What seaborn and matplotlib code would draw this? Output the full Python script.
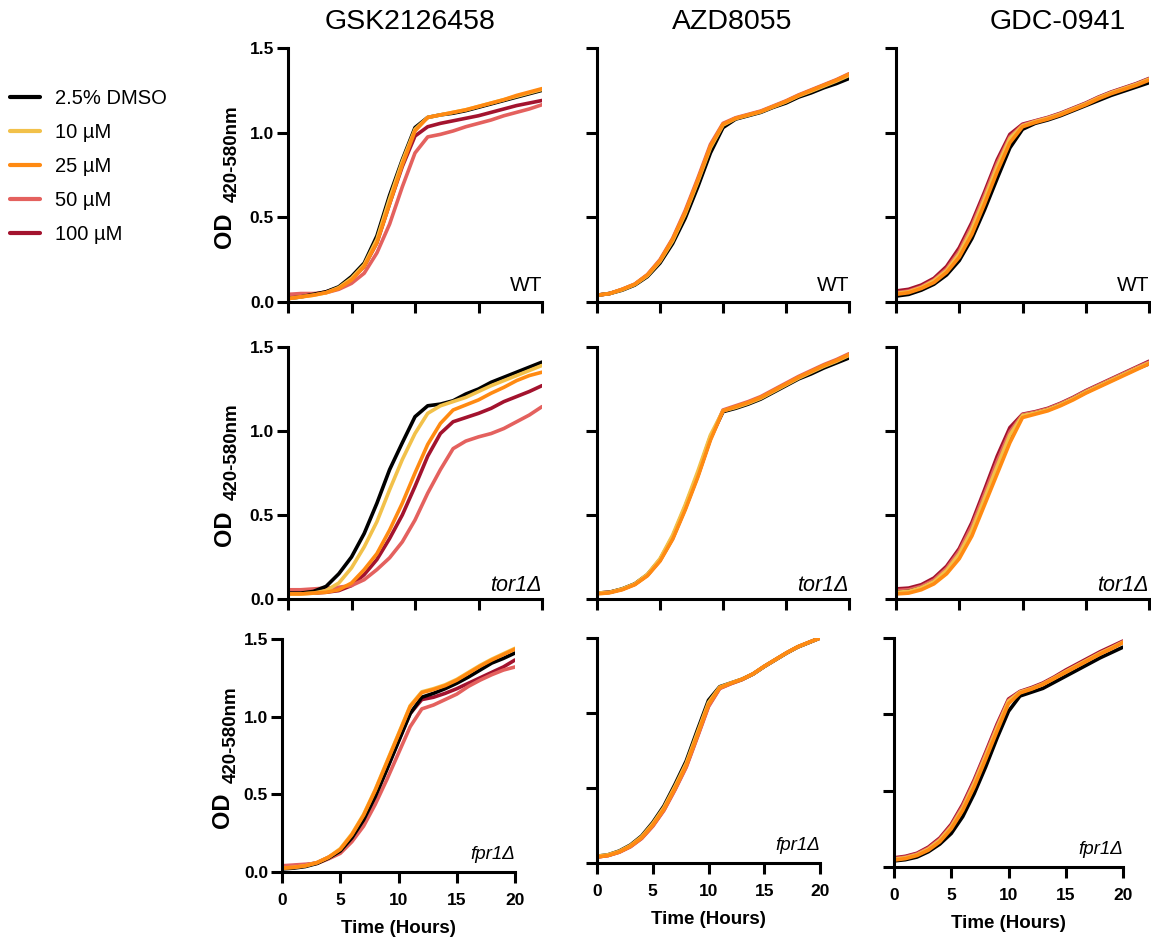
import matplotlib
matplotlib.use("Agg")
import matplotlib.pyplot as plt
import seaborn as sns
import pandas as pd
from matplotlib.lines import Line2D

# ---------------- data (OD 420-580nm) ----------------
HOURS = list(range(21))
TREATMENTS = ["2.5% DMSO", "10 µM", "25 µM", "50 µM", "100 µM"]
DRUGS = ["GSK2126458", "AZD8055", "GDC-0941"]
STRAINS = ["WT", "tor1Δ", "fpr1Δ"]

# GSK2126458
gsk_wt_dmso = [0.02,0.03,0.045,0.06,0.09,0.15,0.23,0.39,0.63,0.84,1.03,1.09,1.105,1.115,1.13,1.15,1.17,1.19,1.21,1.23,1.25]
gsk_wt_10 = [0.02,0.03,0.04,0.055,0.085,0.14,0.22,0.37,0.61,0.83,1.02,1.09,1.105,1.12,1.135,1.155,1.175,1.195,1.215,1.235,1.255]
gsk_wt_25 = [0.02,0.03,0.04,0.055,0.08,0.13,0.21,0.35,0.58,0.81,1.01,1.09,1.105,1.12,1.135,1.155,1.175,1.195,1.22,1.24,1.26]
gsk_wt_50 = [0.045,0.05,0.05,0.055,0.075,0.11,0.17,0.29,0.46,0.68,0.88,0.975,0.99,1.01,1.035,1.055,1.075,1.10,1.12,1.14,1.165]
gsk_wt_100 = [0.03,0.035,0.045,0.06,0.085,0.135,0.21,0.35,0.58,0.80,0.98,1.035,1.055,1.07,1.085,1.10,1.12,1.14,1.16,1.175,1.19]

gsk_tor_dmso = [0.035,0.035,0.045,0.075,0.15,0.25,0.39,0.57,0.77,0.93,1.085,1.15,1.16,1.18,1.22,1.25,1.29,1.32,1.35,1.38,1.41]
gsk_tor_10 = [0.03,0.03,0.035,0.05,0.095,0.185,0.31,0.46,0.65,0.83,0.985,1.105,1.15,1.175,1.20,1.235,1.27,1.30,1.33,1.36,1.39]
gsk_tor_25 = [0.03,0.03,0.035,0.04,0.055,0.095,0.175,0.27,0.41,0.57,0.75,0.92,1.045,1.125,1.155,1.185,1.225,1.26,1.30,1.33,1.35]
gsk_tor_50 = [0.055,0.055,0.06,0.065,0.07,0.08,0.115,0.175,0.245,0.34,0.47,0.63,0.77,0.895,0.94,0.965,0.985,1.015,1.055,1.095,1.145]
gsk_tor_100 = [0.035,0.035,0.035,0.04,0.05,0.08,0.145,0.235,0.36,0.50,0.67,0.85,0.985,1.055,1.08,1.105,1.135,1.175,1.205,1.235,1.27]

gsk_fpr_dmso = [0.02,0.025,0.035,0.055,0.09,0.135,0.22,0.335,0.485,0.66,0.84,1.02,1.125,1.15,1.18,1.215,1.255,1.30,1.345,1.375,1.41]
gsk_fpr_10 = [0.025,0.03,0.04,0.06,0.095,0.15,0.245,0.37,0.53,0.71,0.89,1.07,1.16,1.18,1.205,1.24,1.285,1.33,1.37,1.405,1.44]
gsk_fpr_25 = [0.025,0.03,0.04,0.06,0.095,0.145,0.24,0.365,0.525,0.705,0.885,1.065,1.155,1.175,1.20,1.235,1.28,1.325,1.365,1.40,1.435]
gsk_fpr_50 = [0.04,0.045,0.05,0.055,0.085,0.12,0.195,0.295,0.435,0.595,0.765,0.935,1.05,1.075,1.11,1.145,1.195,1.235,1.27,1.30,1.32]
gsk_fpr_100 = [0.035,0.04,0.045,0.06,0.095,0.14,0.225,0.34,0.49,0.665,0.845,1.02,1.11,1.125,1.15,1.18,1.215,1.25,1.285,1.32,1.365]

# AZD8055
azd_wt_dmso = [0.04,0.05,0.07,0.10,0.15,0.23,0.345,0.495,0.68,0.88,1.03,1.08,1.10,1.12,1.15,1.175,1.21,1.235,1.265,1.29,1.32]
azd_wt_10 = [0.04,0.05,0.072,0.103,0.155,0.24,0.36,0.52,0.71,0.91,1.045,1.083,1.103,1.123,1.153,1.182,1.217,1.245,1.275,1.305,1.338]
azd_wt_25 = [0.04,0.05,0.075,0.105,0.16,0.245,0.37,0.53,0.72,0.92,1.05,1.085,1.105,1.125,1.155,1.185,1.22,1.25,1.28,1.31,1.345]
azd_wt_50 = [0.04,0.05,0.075,0.106,0.162,0.25,0.375,0.54,0.73,0.93,1.055,1.088,1.108,1.128,1.158,1.188,1.223,1.253,1.283,1.313,1.348]
azd_wt_100 = [0.04,0.05,0.074,0.104,0.158,0.243,0.367,0.527,0.717,0.915,1.048,1.084,1.104,1.124,1.154,1.184,1.219,1.249,1.279,1.309,1.343]

azd_tor_dmso = [0.035,0.04,0.06,0.09,0.145,0.235,0.37,0.55,0.745,0.965,1.115,1.135,1.16,1.19,1.23,1.27,1.31,1.34,1.375,1.405,1.435]
azd_tor_10 = [0.035,0.04,0.06,0.09,0.147,0.24,0.38,0.56,0.76,0.975,1.12,1.14,1.165,1.195,1.235,1.275,1.315,1.35,1.385,1.415,1.45]
azd_tor_25 = [0.03,0.037,0.055,0.085,0.138,0.225,0.355,0.53,0.725,0.945,1.12,1.145,1.17,1.20,1.24,1.28,1.32,1.355,1.39,1.42,1.455]
azd_tor_50 = [0.035,0.04,0.058,0.088,0.142,0.23,0.362,0.54,0.735,0.955,1.125,1.15,1.175,1.205,1.245,1.285,1.325,1.36,1.395,1.425,1.46]
azd_tor_100 = [0.035,0.04,0.058,0.088,0.142,0.23,0.36,0.538,0.733,0.953,1.118,1.14,1.165,1.195,1.235,1.275,1.315,1.35,1.385,1.415,1.445]

azd_fpr_dmso = [0.045,0.055,0.08,0.12,0.18,0.27,0.38,0.525,0.68,0.885,1.085,1.175,1.20,1.225,1.26,1.31,1.355,1.40,1.44,1.47,1.50]
azd_fpr_10 = [0.045,0.055,0.078,0.117,0.175,0.262,0.37,0.512,0.665,0.868,1.07,1.172,1.20,1.225,1.26,1.31,1.355,1.40,1.44,1.47,1.50]
azd_fpr_25 = [0.04,0.05,0.074,0.112,0.168,0.252,0.358,0.498,0.65,0.85,1.055,1.168,1.198,1.225,1.262,1.312,1.357,1.402,1.442,1.472,1.50]
azd_fpr_50 = [0.04,0.05,0.072,0.108,0.163,0.245,0.35,0.488,0.638,0.838,1.042,1.163,1.195,1.222,1.26,1.31,1.355,1.40,1.44,1.47,1.50]
azd_fpr_100 = [0.04,0.05,0.073,0.11,0.165,0.248,0.354,0.493,0.644,0.844,1.048,1.165,1.196,1.223,1.26,1.31,1.355,1.40,1.44,1.47,1.50]

# GDC-0941
gdc_wt_dmso = [0.035,0.045,0.07,0.105,0.16,0.245,0.375,0.545,0.73,0.91,1.02,1.055,1.075,1.10,1.13,1.16,1.19,1.22,1.245,1.27,1.295]
gdc_wt_10 = [0.05,0.06,0.085,0.125,0.185,0.285,0.43,0.61,0.80,0.965,1.04,1.065,1.085,1.11,1.14,1.17,1.205,1.235,1.26,1.285,1.315]
gdc_wt_25 = [0.045,0.055,0.08,0.115,0.175,0.265,0.40,0.58,0.77,0.94,1.035,1.06,1.08,1.105,1.135,1.165,1.20,1.23,1.255,1.28,1.31]
gdc_wt_50 = [0.055,0.065,0.09,0.13,0.195,0.30,0.45,0.63,0.82,0.975,1.045,1.068,1.088,1.112,1.142,1.172,1.207,1.237,1.262,1.287,1.317]
gdc_wt_100 = [0.065,0.075,0.10,0.14,0.21,0.32,0.47,0.65,0.84,0.99,1.05,1.07,1.09,1.115,1.145,1.175,1.21,1.24,1.265,1.29,1.32]

gdc_tor_dmso = [0.04,0.045,0.065,0.10,0.165,0.26,0.40,0.59,0.775,0.965,1.09,1.105,1.125,1.155,1.19,1.23,1.265,1.30,1.335,1.37,1.40]
gdc_tor_10 = [0.04,0.045,0.067,0.103,0.17,0.268,0.41,0.60,0.79,0.975,1.092,1.107,1.127,1.157,1.192,1.232,1.267,1.302,1.337,1.372,1.405]
gdc_tor_25 = [0.03,0.035,0.055,0.09,0.15,0.24,0.375,0.56,0.745,0.93,1.08,1.10,1.12,1.15,1.185,1.225,1.26,1.295,1.33,1.365,1.40]
gdc_tor_50 = [0.05,0.055,0.075,0.113,0.182,0.285,0.435,0.625,0.82,0.995,1.097,1.112,1.132,1.162,1.197,1.237,1.272,1.307,1.342,1.377,1.41]
gdc_tor_100 = [0.06,0.065,0.085,0.125,0.195,0.30,0.455,0.65,0.85,1.02,1.10,1.115,1.135,1.165,1.20,1.24,1.275,1.31,1.345,1.38,1.415]

gdc_fpr_dmso = [0.04,0.048,0.065,0.10,0.15,0.22,0.33,0.48,0.655,0.845,1.02,1.12,1.145,1.17,1.21,1.25,1.29,1.33,1.37,1.405,1.44]
gdc_fpr_10 = [0.05,0.06,0.08,0.117,0.175,0.262,0.385,0.545,0.725,0.91,1.085,1.145,1.168,1.198,1.238,1.28,1.32,1.36,1.40,1.435,1.472]
gdc_fpr_25 = [0.045,0.055,0.075,0.11,0.165,0.25,0.37,0.525,0.705,0.89,1.07,1.14,1.165,1.195,1.235,1.275,1.315,1.355,1.395,1.43,1.47]
gdc_fpr_50 = [0.055,0.065,0.085,0.123,0.182,0.27,0.398,0.558,0.738,0.922,1.092,1.147,1.17,1.20,1.24,1.282,1.322,1.362,1.402,1.437,1.475]
gdc_fpr_100 = [0.06,0.07,0.09,0.13,0.19,0.28,0.41,0.57,0.75,0.935,1.10,1.15,1.175,1.205,1.245,1.29,1.33,1.37,1.41,1.445,1.48]

PANEL_SERIES = {
    ("GSK2126458", "WT"): [gsk_wt_dmso, gsk_wt_10, gsk_wt_25, gsk_wt_50, gsk_wt_100],
    ("GSK2126458", "tor1Δ"): [gsk_tor_dmso, gsk_tor_10, gsk_tor_25, gsk_tor_50, gsk_tor_100],
    ("GSK2126458", "fpr1Δ"): [gsk_fpr_dmso, gsk_fpr_10, gsk_fpr_25, gsk_fpr_50, gsk_fpr_100],
    ("AZD8055", "WT"): [azd_wt_dmso, azd_wt_10, azd_wt_25, azd_wt_50, azd_wt_100],
    ("AZD8055", "tor1Δ"): [azd_tor_dmso, azd_tor_10, azd_tor_25, azd_tor_50, azd_tor_100],
    ("AZD8055", "fpr1Δ"): [azd_fpr_dmso, azd_fpr_10, azd_fpr_25, azd_fpr_50, azd_fpr_100],
    ("GDC-0941", "WT"): [gdc_wt_dmso, gdc_wt_10, gdc_wt_25, gdc_wt_50, gdc_wt_100],
    ("GDC-0941", "tor1Δ"): [gdc_tor_dmso, gdc_tor_10, gdc_tor_25, gdc_tor_50, gdc_tor_100],
    ("GDC-0941", "fpr1Δ"): [gdc_fpr_dmso, gdc_fpr_10, gdc_fpr_25, gdc_fpr_50, gdc_fpr_100],
}

COLORS = ["#000000", "#F2C14A", "#FF8A12", "#E4615E", "#A3132E"]
PALETTE = dict(zip(TREATMENTS, COLORS))
DRAW_ORDER = ["100 µM", "50 µM", "2.5% DMSO", "10 µM", "25 µM"]

rows = []
for (drug, strain), series in PANEL_SERIES.items():
    for treat, vals in zip(TREATMENTS, series):
        for t, v in zip(HOURS, vals):
            rows.append((drug, strain, treat, t, v))
df = pd.DataFrame(rows, columns=["Drug", "Strain", "Treatment", "Time", "OD"])

# ---------------- styling ----------------
sns.set_theme(style="ticks", rc={
    "axes.edgecolor": "black", "xtick.color": "black", "ytick.color": "black",
    "text.color": "black", "axes.labelcolor": "black",
})
plt.rcParams["font.family"] = ["Liberation Sans", "DejaVu Sans"]

W, H = 1151, 941
fig = plt.figure(figsize=(W / 100, H / 100), dpi=100)

def px_axes(x0, x1, ytop, ybot):
    return fig.add_axes([x0 / W, 1 - ybot / H, (x1 - x0) / W, (ybot - ytop) / H])

FRAMES = [
    [(288, 542, 48, 302), (597, 849, 48, 302), (896, 1149, 48, 302)],
    [(288, 542, 347, 599), (597, 849, 347, 599), (896, 1149, 347, 599)],
    [(282, 515, 639, 872), (597, 820, 638, 863), (894, 1123, 638, 867)],
]

LW = 2.2
for r, strain in enumerate(STRAINS):
    for c, drug in enumerate(DRUGS):
        ax = px_axes(*FRAMES[r][c])
        sub = df[(df.Drug == drug) & (df.Strain == strain)]
        sns.lineplot(data=sub, x="Time", y="OD", hue="Treatment",
                     hue_order=DRAW_ORDER, palette=PALETTE, linewidth=2.6,
                     errorbar=None, legend=False, ax=ax)
        ax.set_xlim(0, 20)
        ax.set_ylim(0, 1.5)
        ax.set_xticks([0, 5, 10, 15, 20])
        ax.set_yticks([0, 0.5, 1.0, 1.5])
        for s in ["top", "right"]:
            ax.spines[s].set_visible(False)
        for s in ["left", "bottom"]:
            ax.spines[s].set_linewidth(LW)
            ax.spines[s].set_color("black")
        ax.tick_params(axis="both", direction="out", length=8, width=LW, color="black")
        ax.tick_params(axis="y", pad=2)
        ax.tick_params(axis="x", pad=7)
        ax.set_xlabel("")
        ax.set_ylabel("")
        if c == 0:
            ax.set_yticklabels(["0.0", "0.5", "1.0", "1.5"], fontsize=12.5, fontweight="bold")
        else:
            ax.tick_params(axis="y", labelleft=False)
        if r == 2:
            ax.set_xticklabels(["0", "5", "10", "15", "20"], fontsize=12.5, fontweight="bold")
            ax.set_xlabel("Time (Hours)", fontsize=13.5, fontweight="bold", labelpad=9)
        else:
            ax.tick_params(axis="x", labelbottom=False)
        if strain == "WT":
            ax.text(1.0, 0.045, "WT", transform=ax.transAxes, ha="right", va="baseline", fontsize=15)
        elif strain == "tor1Δ":
            ax.text(1.0, 0.03, "tor1Δ", transform=ax.transAxes, ha="right", va="baseline",
                    fontsize=15.5, style="italic")
        else:
            ax.text(1.0, 0.056, "fpr1Δ", transform=ax.transAxes, ha="right", va="baseline",
                    fontsize=13.5, style="italic")

        if c == 0:
            x0, x1, yt, yb = FRAMES[r][c]
            yc = (yt + yb) / 2
            ox = 225 if r < 2 else 223
            sx = 232 if r < 2 else 231
            fig.text(ox / W, 1 - (yc + 55) / H, "OD", rotation=90, ha="center", va="center",
                     fontsize=17, fontweight="bold")
            fig.text(sx / W, 1 - (yc - 21) / H, "420-580nm", rotation=90, ha="center", va="center",
                     fontsize=13.5, fontweight="bold")

# column titles
for name, xc in zip(DRUGS, [410, 732, 1058]):
    fig.text(xc / W, 1 - 22 / H, name, ha="center", va="center", fontsize=20.5)

# legend
handles = [Line2D([0], [0], color=PALETTE[t], lw=3) for t in TREATMENTS]
fig.legend(handles, TREATMENTS, loc="upper left", bbox_to_anchor=(10 / W, 1 - 89 / H),
           frameon=False, fontsize=14.5, handlelength=1.5, handletextpad=0.75,
           labelspacing=0.75, borderpad=0, borderaxespad=0)

fig.savefig("out.png", dpi=100)
